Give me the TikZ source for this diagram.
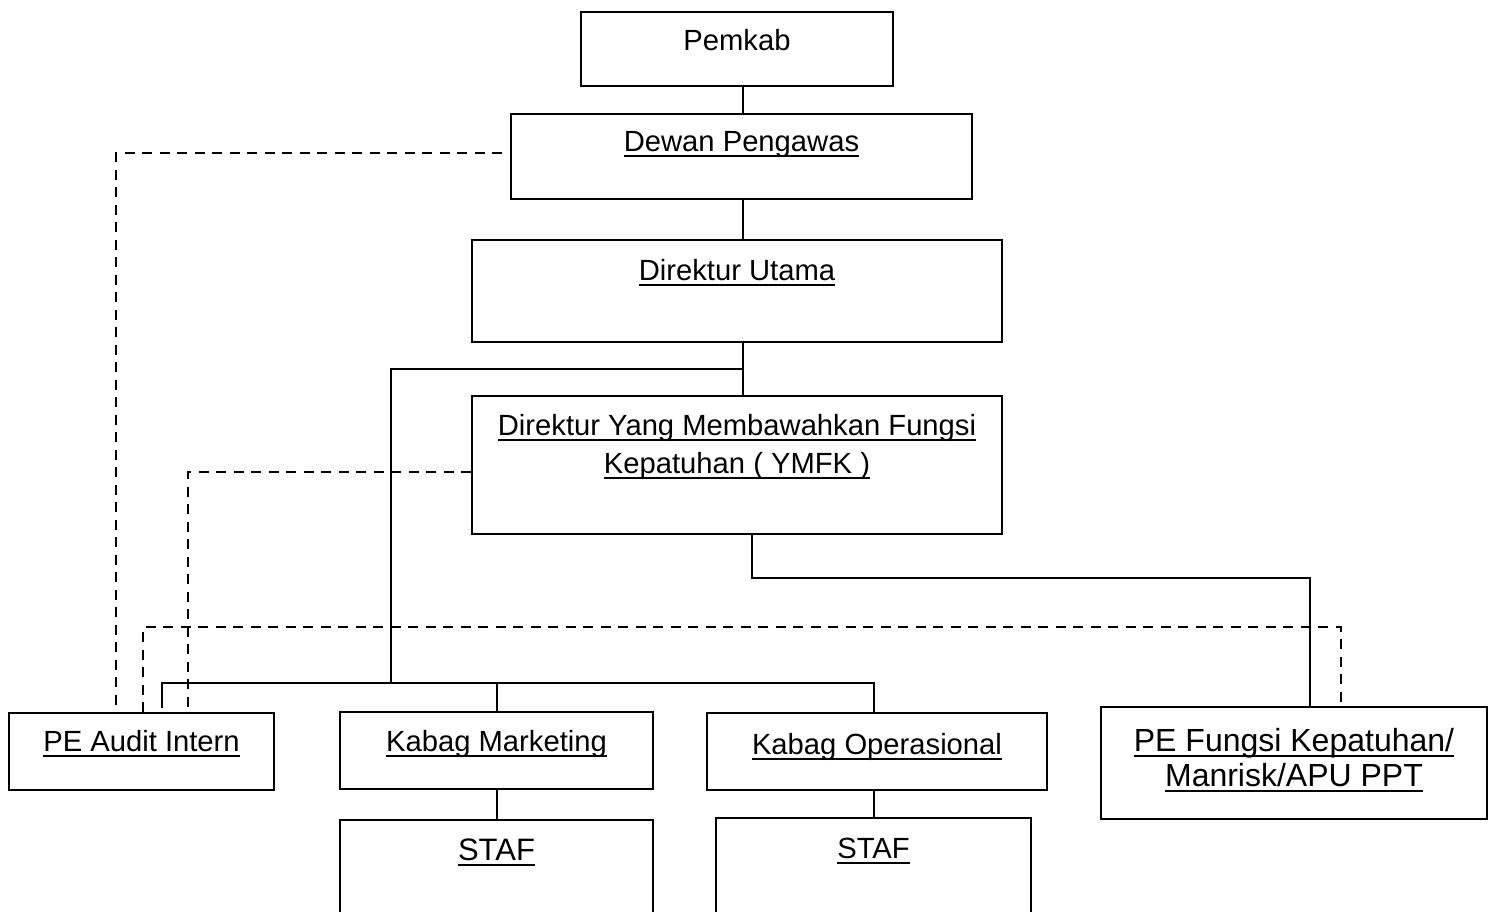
\documentclass[tikz,border=0pt]{standalone}
\usepackage{fontspec}
\setmainfont{Liberation Sans}

\newcommand{\ulin}[1]{\setbox0\hbox{#1}\rlap{\rule[-2.8pt]{\wd0}{1pt}}\box0}

\tikzstyle{unit}=[draw, line width=1pt, inner sep=0pt, anchor=base, align=center, font=\fontsize{14.6}{19}\selectfont]
\tikzstyle{link} = [draw, line width=1pt, -]
\tikzstyle{dashlink} = [draw, line width=1pt, -, dash pattern=on 5pt off 3.75pt]

\begin{document}
\begin{tikzpicture}[x=0.5pt, y=-0.5pt]
	    \clip (0,0) rectangle (1493,911);
	    % boxes
	    \node[unit, minimum width=156pt, text height=19pt, text depth=18pt] (pemkab) at (737,50) {Pemkab};
	    \node[unit, minimum width=230.5pt, text height=18.5pt, text depth=24pt] (dewas) at (741.5,151) {\ulin{Dewan Pengawas}};
	    \node[unit, minimum width=265pt, text height=20pt, text depth=31pt] (dirut) at (737,280) {\ulin{Direktur Utama}};
	    \node[unit, minimum width=265pt, text height=38.5pt, text depth=30.5pt] (ymfk) at (737,473) {\ulin{Direktur Yang Membawahkan Fungsi}\\ \ulin{Kepatuhan ( YMFK )}};
	    \node[unit, minimum width=132.5pt, text height=19pt, text depth=19.5pt] (spi) at (141.5,751) {\ulin{PE Audit Intern}};
	    \node[unit, minimum width=156.5pt, text height=19.5pt, text depth=19pt] (mkt) at (496.5,751) {\ulin{Kabag Marketing}};
	    \node[unit, minimum width=170pt, text height=20.5pt, text depth=18pt] (ops) at (877,754) {\ulin{Kabag Operasional}};
	    \node[unit, minimum width=193pt, text height=39.5pt, text depth=16.5pt, font=\fontsize{16}{17.5}\selectfont] (kpt) at (1294,786) {\ulin{PE Fungsi Kepatuhan/}\\ \ulin{Manrisk/APU PPT}};
	    \node[unit, minimum width=156.5pt, text height=20pt, text depth=40pt, font=\fontsize{15.5}{18}\selectfont] (stafmkt) at (496.5,860) {\ulin{STAF}};
	    \node[unit, minimum width=157.5pt, text height=20pt, text depth=41pt] (stafops) at (873.5,858) {\ulin{STAF}};

	    % solid lines
	    \coordinate (spine) at (743,0);
	    \coordinate (split) at (743,369);
	    \coordinate (busL) at (162,683);
	    \coordinate (busM) at (391,683);
	    \coordinate (busR) at (874,683);
	    \coordinate (kptin) at (1310,578);
	    \foreach \source/\dest in {pemkab.south/dewas.north, dewas.south/dirut.north, dirut.south/ymfk.north}
			\path[link] (\source -| spine) -- (\dest -| spine);
	    \path[link] (split) -| (busM);
	    \path[link, shorten >=2pt] (busR |- ops.north) -- (busR) -- (busL) -- (busL |- spi.north);
	    \path[link] (busM -| mkt.north) -- (mkt.north);
	    \path[link] (mkt.south) -- (stafmkt.north);
	    \path[link] (busR |- ops.south) -- (busR |- stafops.north);
	    \path[link] ([xshift=7.5pt]ymfk.south) |- (kptin) -- (kptin |- kpt.north);

	    % dashed lines
	    \coordinate (dv) at (116,0);
	    \coordinate (dy) at (188,0);
	    \coordinate (dl) at (143,627);
	    \coordinate (dr) at (1341,627);
	    \path[dashlink] ([xshift=-4pt, yshift=1.75pt]dewas.west) -| (dv |- spi.north);
	    \path[dashlink] ([yshift=-3.5pt]ymfk.west) -| (dy |- spi.north);
	    \path[dashlink] (dl |- spi.north) -- (dl) -- (dr) -- (dr |- kpt.north);
	\end{tikzpicture}
\end{document}
